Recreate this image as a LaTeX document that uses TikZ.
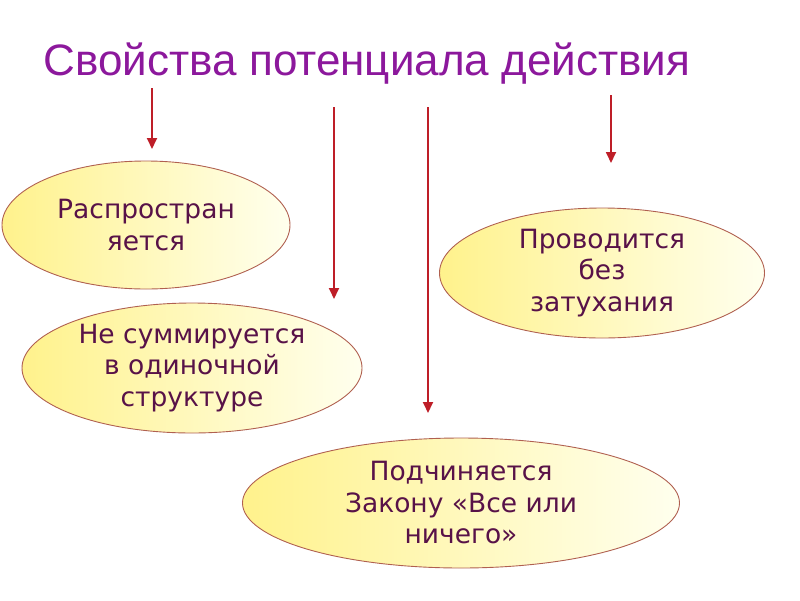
\documentclass[tikz,border=0pt]{standalone}
\usepackage{fontspec}
\setmainfont{DejaVu Sans}
\newfontfamily\titlefont{Liberation Sans}
\usetikzlibrary{shapes.geometric,arrows.meta}
\definecolor{titlepurple}{RGB}{140,24,156}
\definecolor{txtpurple}{RGB}{88,18,72}
\definecolor{edgebrown}{RGB}{176,96,80}
\definecolor{arrowred}{RGB}{190,30,40}
\definecolor{ellyellow}{RGB}{255,242,140}
\definecolor{ellwhite}{RGB}{255,255,238}
\tikzset{
  prop/.style={ellipse, draw=edgebrown, line width=0.9pt, left color=ellyellow, right color=ellwhite,
    inner sep=0pt, align=center, text=txtpurple, font=\fontsize{26.5}{31.5}\selectfont},
  redarrow/.style={draw=arrowred, line width=1.8pt, -{Triangle[length=11pt,width=10pt]}}
}
\begin{document}
\begin{tikzpicture}[x=1pt,y=-1pt]
\useasboundingbox (0,0) rectangle (800,600);
\node[text=titlepurple, font=\titlefont\fontsize{44}{50}\selectfont, anchor=base] (title) at (367,75) {Свойства потенциала действия};

\node[prop, minimum width=288pt, minimum height=128pt] (e1) at (146,225) {Распростран\\яется};
\node[prop, minimum width=325pt, minimum height=130pt] (e2) at (602,273) {Проводится\\без\\затухания};
\node[prop, minimum width=340pt, minimum height=130pt] (e3) at (192,368) {Не суммируется\\в одиночной\\структуре};
\node[prop, minimum width=437pt, minimum height=130pt] (e4) at (461,503) {Подчиняется\\Закону «Все или\\ничего»};

\coordinate (a1s) at (152,88);  \coordinate (a1e) at (152,149);
\coordinate (a2s) at (334,107); \coordinate (a2e) at (334,299);
\coordinate (a3s) at (428,107); \coordinate (a3e) at (428,413);
\coordinate (a4s) at (611,95);  \coordinate (a4e) at (611,163);
\draw[redarrow] (a1s) -- (a1e);
\draw[redarrow] (a2s) -- (a2e);
\draw[redarrow] (a3s) -- (a3e);
\draw[redarrow] (a4s) -- (a4e);
\end{tikzpicture}
\end{document}
